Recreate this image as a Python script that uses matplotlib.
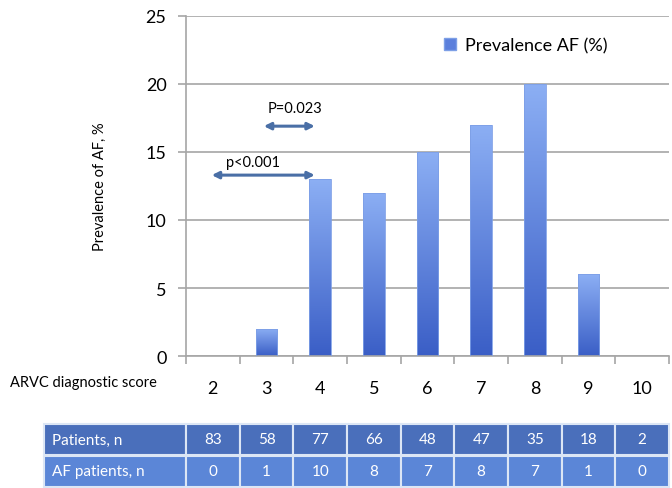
import matplotlib
matplotlib.use("Agg")
import matplotlib.pyplot as plt
import numpy as np
from matplotlib.patches import Patch, Rectangle
from matplotlib.colors import LinearSegmentedColormap
import matplotlib.transforms as mtransforms

plt.rcParams['font.family'] = ['Lato', 'DejaVu Sans']

scores = [2, 3, 4, 5, 6, 7, 8, 9, 10]
prevalence = [0, 2, 13, 12, 15, 17, 20, 6, 0]
patients = [83, 58, 77, 66, 48, 47, 35, 18, 2]
af_patients = [0, 1, 10, 8, 7, 8, 7, 1, 0]
row_labels = ["Patients, n", "AF patients, n"]
yticks = [0, 5, 10, 15, 20, 25]

W, H = 672, 489
fig = plt.figure(figsize=(W / 100, H / 100), dpi=100)
ax = fig.add_axes([186 / W, (H - 357) / H, (669 - 186) / W, (357 - 17) / H])

ax.set_xlim(scores[0] - 0.5, scores[-1] + 0.5)
ax.set_ylim(0, 25)

grid_c = "#a6a6a6"
for s in ["top", "right"]:
    ax.spines[s].set_visible(False)
for s in ["left", "bottom"]:
    ax.spines[s].set_color(grid_c)
    ax.spines[s].set_linewidth(1.2)

ax.set_yticks(yticks)
ax.yaxis.grid(True, color=grid_c, linewidth=1.2)
ax.set_axisbelow(True)
ax.tick_params(axis='y', colors=grid_c, length=6, width=1.2, labelcolor='black',
               labelsize=13, pad=8)

ax.set_xticks(scores)
ax.set_xticklabels([str(s) for s in scores])
ax.set_xticks([s + 0.5 for s in [scores[0] - 1] + scores], minor=True)
ax.tick_params(axis='x', which='major', length=0, labelsize=13, pad=17)
ax.tick_params(axis='x', which='minor', length=6, width=1.2, colors=grid_c)

ax.set_ylabel("Prevalence of AF, %", fontsize=10.5, labelpad=28)

# gradient bars
cmap = LinearSegmentedColormap.from_list("bar", ["#3a5ec6", "#8caff4"])
grad = np.linspace(0, 1, 256).reshape(-1, 1)
bw = 0.4
bars = ax.bar(scores, prevalence, width=bw, color="none", edgecolor="#7d9fe6",
              linewidth=0.6, zorder=3)
for b, v in zip(bars, prevalence):
    if v <= 0:
        continue
    x0 = b.get_x()
    im = ax.imshow(grad, extent=[x0, x0 + bw, 0, v], origin='lower', cmap=cmap,
                   aspect='auto', zorder=2.5, interpolation='bilinear')
    im.set_clip_path(b)
ax.set_xlim(scores[0] - 0.5, scores[-1] + 0.5)
ax.set_ylim(0, 25)

# arrows
arrow_c = "#4a6fa6"
ax.annotate("", xy=(3.9, 16.9), xytext=(2.95, 16.9),
            arrowprops=dict(arrowstyle="<|-|>", color=arrow_c, lw=2.2,
                            mutation_scale=10, shrinkA=0, shrinkB=0))
ax.annotate("", xy=(3.9, 13.3), xytext=(1.98, 13.3),
            arrowprops=dict(arrowstyle="<|-|>", color=arrow_c, lw=2.2,
                            mutation_scale=10, shrinkA=0, shrinkB=0))
ax.text(3.53, 18.2, "P=0.023", ha='center', va='center', fontsize=10.5)
ax.text(2.75, 14.3, "p<0.001", ha='center', va='center', fontsize=10.5)

# legend
ax.legend(handles=[Patch(facecolor="#5b7fdc", edgecolor="#7d9fe6")],
          labels=["Prevalence AF (%)"], loc='upper left',
          bbox_to_anchor=(0.50, 0.985), frameon=False, fontsize=13,
          handlelength=0.7, handleheight=0.7, handletextpad=0.5)

# x-axis title
fig.text(10 / W, 1 - 383 / H, "ARVC diagnostic score", ha='left', va='center',
         fontsize=10.5)

# table: x in data coords of main axes, y in figure fraction
trans = mtransforms.blended_transform_factory(ax.transData, fig.transFigure)
row_colors = ["#4a6fbb", "#5b86d7"]
row_tops = [425, 457]
row_h = 31
slot_px = (669 - 186) / len(scores)
label_left = scores[0] - 0.5 - (186 - 44) / slot_px
line_c = "#dce6f5"
for r, (vals, lab) in enumerate(zip([patients, af_patients], row_labels)):
    top = row_tops[r]
    y0 = 1 - (top + row_h) / H
    hh = row_h / H
    lx0 = label_left
    lx1 = scores[0] - 0.5
    ax.add_patch(Rectangle((lx0, y0), lx1 - lx0, hh, transform=trans,
                           facecolor=row_colors[r], edgecolor=line_c,
                           linewidth=1.5, clip_on=False, zorder=5))
    ax.text(lx0 + 8 / slot_px, y0 + hh / 2, lab, transform=trans, ha='left',
            va='center', color='white', fontsize=11, clip_on=False, zorder=6)
    for s, v in zip(scores, vals):
        ax.add_patch(Rectangle((s - 0.5, y0), 1.0, hh, transform=trans,
                               facecolor=row_colors[r], edgecolor=line_c,
                               linewidth=1.5, clip_on=False, zorder=5))
        ax.text(s, y0 + hh / 2, str(v), transform=trans, ha='center',
                va='center', color='white', fontsize=11, clip_on=False,
                zorder=6)

fig.savefig("out.png", dpi=100)
